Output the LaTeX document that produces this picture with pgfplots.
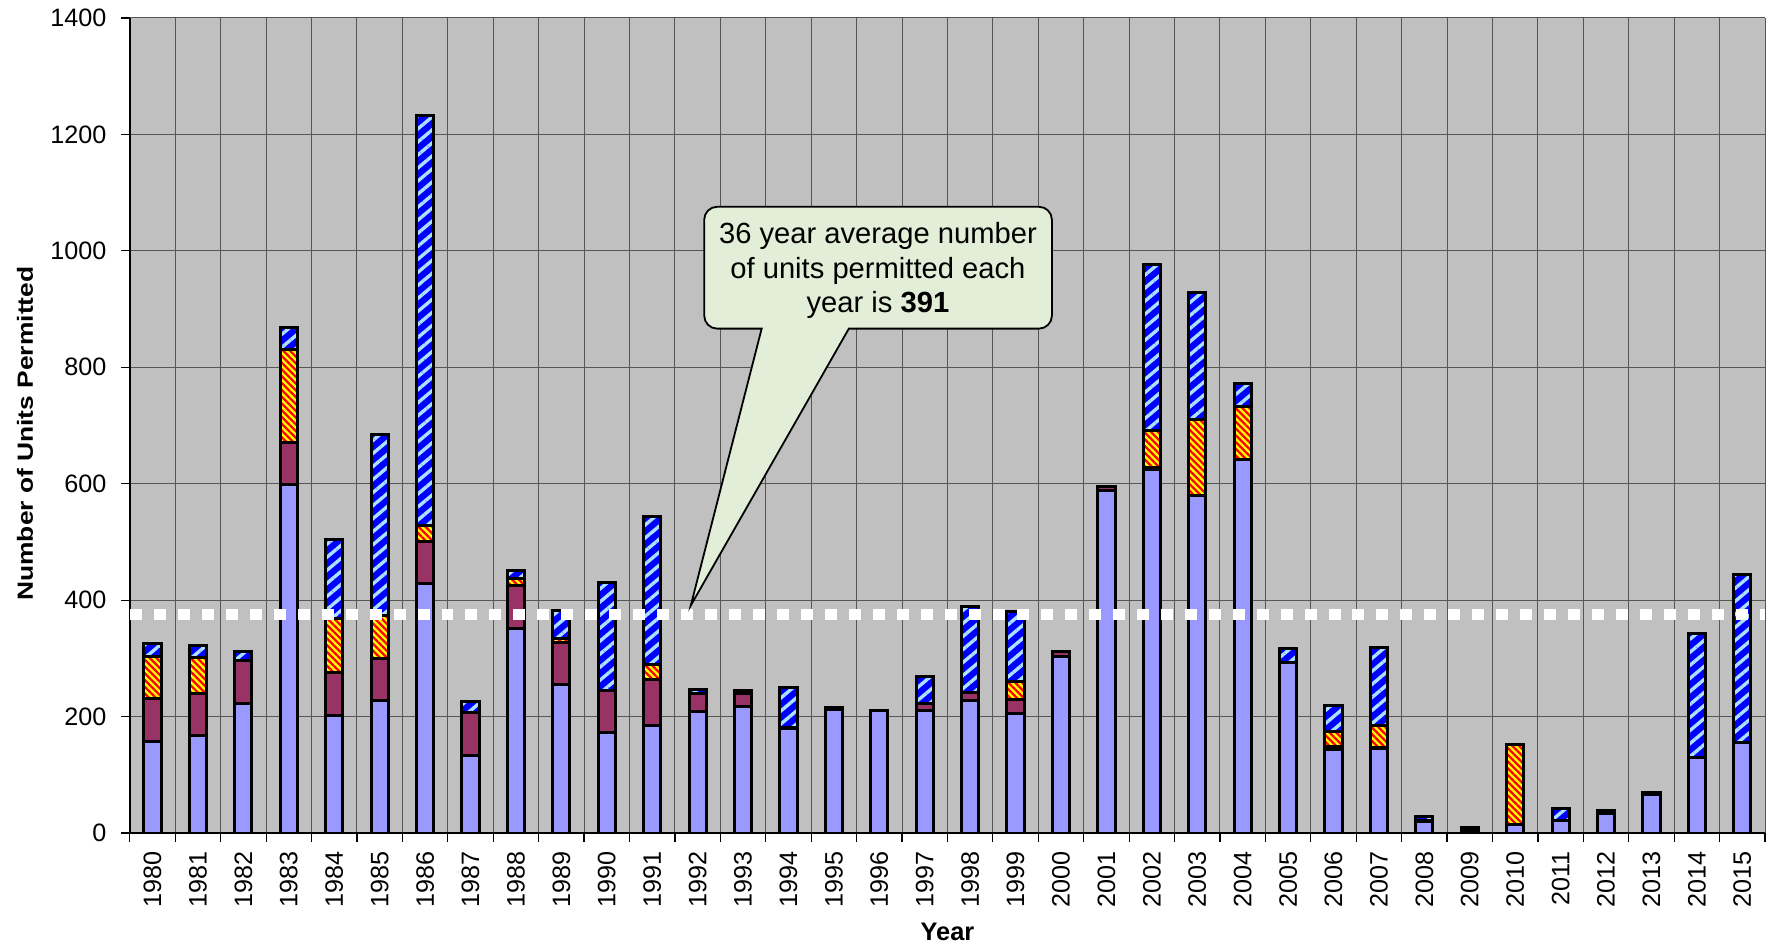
\documentclass[border=0pt]{standalone}
\usepackage{fontspec}
\setmainfont{Liberation Sans}
\usepackage{pgfplots}
\pgfplotsset{compat=1.18}
\usepackage{pgfplotstable}
\usetikzlibrary{patterns.meta,calc}
\definecolor{bgray}{RGB}{192,192,192}
\definecolor{lav}{RGB}{153,153,255}
\definecolor{maroonc}{RGB}{153,51,102}
\definecolor{sblue}{RGB}{0,0,255}
\definecolor{slight}{RGB}{170,225,255}
\definecolor{oyellow}{RGB}{255,255,0}
\definecolor{ored}{RGB}{255,0,0}
\definecolor{calloutc}{RGB}{226,238,216}
\definecolor{gridc}{RGB}{85,85,85}

\pgfplotstableread{
year L M O B
1980 158 73 73 22
1981 167 73 61 21
1982 222 74 0 16
1983 598 72 161 38
1984 202 74 92 137
1985 227 72 75 311
1986 428 73 27 705
1987 134 73 0 19
1988 352 73 12 14
1989 255 73 6 48
1990 172 73 0 186
1991 184 79 26 254
1992 208 31 0 8
1993 217 22 0 6
1994 180 2 0 68
1995 213 2 0 0
1996 210 0 0 0
1997 211 12 0 46
1998 227 14 0 148
1999 205 24 32 119
2000 303 8 0 0
2001 589 7 0 0
2002 625 3 63 285
2003 579 0 132 217
2004 641 0 92 40
2005 293 0 0 24
2006 143 5 27 44
2007 145 2 38 133
2008 20 2 0 7
2009 4 3 0 3
2010 14 0 138 0
2011 22 0 0 21
2012 33 5 0 0
2013 67 3 0 0
2014 129 0 0 214
2015 155 0 0 289
}\permits

\begin{document}
\begin{tikzpicture}
\begin{axis}[
  name=ax, at={(0,0)}, anchor=south west,
  scale only axis, width=818.5pt, height=408pt,
  xmin=1979.5, xmax=2015.5, ymin=0, ymax=1400,
  axis background/.style={fill=bgray},
  ybar stacked, bar width=8.6pt,
  axis x line*=bottom, axis y line*=left,
  axis line style={black, line width=0.8pt},
  xtick={1979.5,1980.5,...,2015.5}, xticklabels={},
  extra x ticks={1980,1981,...,2015},
  extra x tick style={major tick length=0pt, grid=none,
     xticklabel style={yshift=-9pt, rotate=90, anchor=east, inner sep=0pt}},
  ytick={0,200,...,1400},
  xmajorgrids, ymajorgrids,
  grid style={gridc, line width=0.5pt},
  tick align=outside, major tick length=4.5pt,
  tick style={black, line width=0.6pt},
  /pgf/number format/assume math mode=true,
  /pgf/number format/1000 sep={},
  tick label style={font=\fontsize{12.6}{15}\selectfont},
  yticklabel style={inner sep=0pt, xshift=-7pt},
  xlabel={Year},
  xlabel style={font=\fontsize{12.7}{15}\selectfont\bfseries, at={(axis description cs:0.5,-0.1213)}, anchor=center},
  ylabel={\scalebox{1.2}[1]{Number of Units Permitted}},
  ylabel style={font=\fontsize{11}{13}\selectfont\bfseries, at={(axis description cs:-0.0641,0.49)}, anchor=center},
  every axis plot/.append style={draw=black, line width=1.5pt},
]
\addplot[fill=lav] table[x=year,y=L]{\permits};
\addplot[fill=maroonc] table[x=year,y=M]{\permits};
\addplot[preaction={fill=oyellow}, pattern={Lines[angle=-45,distance=2.4pt,line width=1.15pt]}, pattern color=ored] table[x=year,y=O]{\permits};
\addplot[preaction={fill=sblue}, pattern={Lines[angle=40,distance=5pt,line width=1.7pt]}, pattern color=slight] table[x=year,y=B]{\permits};
\end{axis}
\begin{axis}[
  at={(0,0)}, anchor=south west,
  scale only axis, width=818.5pt, height=408pt,
  xmin=1979.5, xmax=2015.5, ymin=0, ymax=1400,
  hide axis, clip=false,
]
\addplot[white, line width=5.5pt, dash pattern=on 6pt off 6pt, mark=none] coordinates {(1979.5,375) (2015.5,375)};
\draw[fill=calloutc, line width=0.9pt, line join=miter]
  (axis cs:1993.41,866.4) -- (axis cs:1991.85,391) -- (axis cs:1995.33,866.4)
  [rounded corners=6.5pt] -- (axis cs:1999.80,866.4) -- (axis cs:1999.80,1075.7)
  -- (axis cs:1992.145,1075.7) -- (axis cs:1992.145,866.4) [sharp corners] -- cycle;
\node[align=center, font=\fontsize{14.6}{17.25}\selectfont, inner sep=0pt] at (axis cs:1995.97,966)
  {36 year average number\\of units permitted each\\year is \textbf{391}};
\end{axis}
\pgfresetboundingbox
\path ($(ax.south west)+(-65pt,-58pt)$) rectangle ($(ax.north east)+(3.5pt,9pt)$);
\end{tikzpicture}
\end{document}
